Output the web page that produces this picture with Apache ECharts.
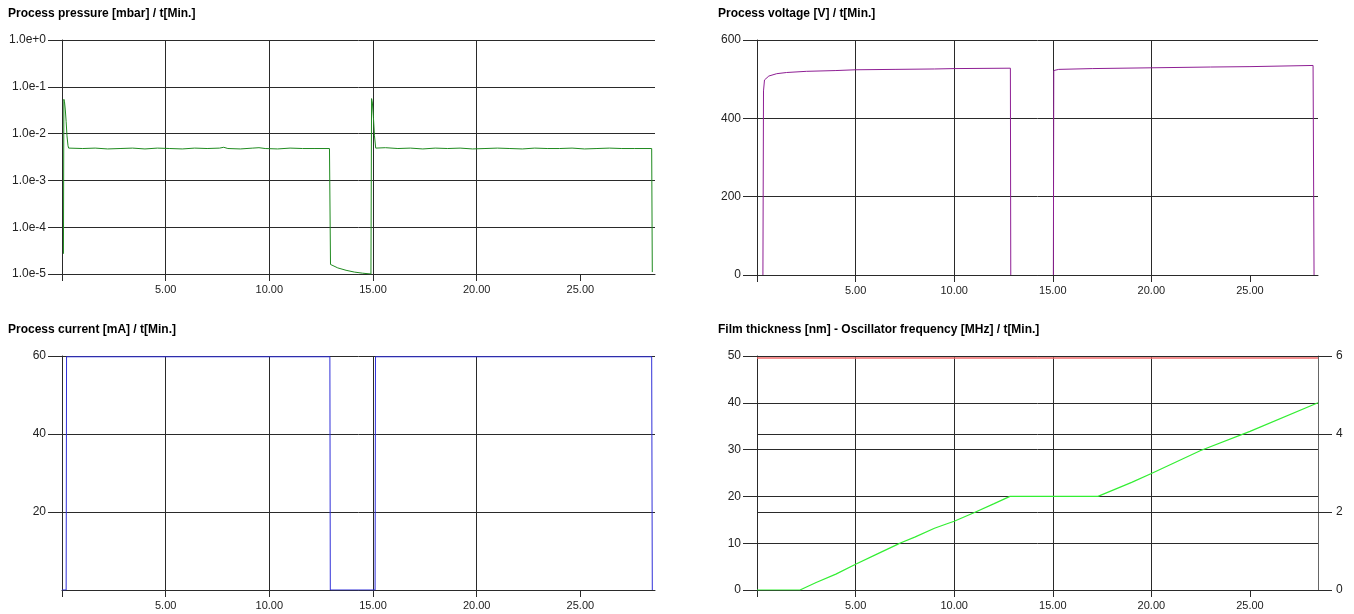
<!DOCTYPE html>
<html><head><meta charset="utf-8">
<script src="https://cdn.jsdelivr.net/npm/echarts@6/dist/echarts.min.js"></script>
<style>html,body{margin:0;padding:0;background:#fff}#c{width:1354px;height:614px}</style>
</head><body><div id="c"></div>
<script>
// ---- data (time in minutes) ----
const titles = [
  "Process pressure [mbar] / t[Min.]",
  "Process voltage [V] / t[Min.]",
  "Process current [mA] / t[Min.]",
  "Film thickness [nm] - Oscillator frequency [MHz] / t[Min.]"
];
const xTickValues = [0, 5, 10, 15, 20, 25];
const xLabelValues = [5, 10, 15, 20, 25];

const pressure = [
  [0.07, 2.7e-5], [0.09, 0.054], [0.12, 0.048], [0.16, 0.032], [0.20, 0.018], [0.24, 0.009], [0.29, 0.0055], [0.32, 0.0049],
  [1.0, 0.0048], [1.6, 0.0049], [2.2, 0.0047], [2.8, 0.0048], [3.4, 0.0049], [4.0, 0.0047], [4.6, 0.0049], [5.2, 0.0048],
  [5.8, 0.0047], [6.4, 0.0049], [7.0, 0.0048], [7.6, 0.0049], [7.8, 0.0051], [8.0, 0.0048], [8.6, 0.0047], [9.2, 0.0049],
  [9.5, 0.0050], [9.8, 0.0048], [10.4, 0.0047], [11.0, 0.0049], [11.6, 0.0048], [12.2, 0.0048], [12.9, 0.0048],
  [12.95, 1.6e-5], [13.3, 1.35e-5], [13.7, 1.2e-5], [14.1, 1.1e-5], [14.5, 1.04e-5], [14.9, 1.0e-5],
  [14.93, 0.056], [14.97, 0.045], [15.02, 0.022], [15.07, 0.009], [15.13, 0.0049],
  [15.6, 0.0050], [16.2, 0.0048], [16.8, 0.0049], [17.4, 0.0047], [18.0, 0.0049], [18.6, 0.0048], [19.2, 0.0049],
  [19.8, 0.0047], [20.4, 0.0048], [21.0, 0.0049], [21.6, 0.0048], [22.2, 0.0047], [22.8, 0.0049], [23.4, 0.0048],
  [24.0, 0.0048], [24.6, 0.0049], [25.2, 0.0047], [25.8, 0.0048], [26.4, 0.0049], [27.0, 0.0048], [27.6, 0.0048],
  [28.44, 0.0048], [28.47, 1.1e-5]
];
const voltage = [
  [0.30, 0], [0.33, 470], [0.38, 498], [0.6, 508], [1.0, 514], [1.5, 517], [2.5, 520], [4.0, 522], [5.0, 524],
  [7.0, 525], [9.0, 526], [10.0, 527], [12.85, 528], [12.87, 0], [13.9, null], [15.03, 0], [15.05, 522], [15.3, 525],
  [17.0, 527], [20.0, 529], [23.0, 531], [25.0, 532], [28.2, 535], [28.25, 0]
];
const current = [
  [0, 0], [0.2, 0], [0.22, 59.8], [12.92, 59.8], [12.94, 0], [15.1, 0], [15.12, 59.8], [28.44, 59.8], [28.47, 0]
];
const thickness = [
  [0, 0], [2.18, 0], [3.0, 1.6], [4.0, 3.4], [5.0, 5.5], [6.0, 7.5], [7.1, 9.7], [7.3, 10.1], [8.0, 11.3],
  [9.0, 13.2], [9.6, 14.1], [10.0, 14.7], [11.0, 16.5], [12.0, 18.4], [12.83, 20], [17.29, 20],
  [19.0, 23.0], [20.0, 24.9], [22.5, 29.8], [25.0, 33.9], [28.45, 40]
];
const frequency = [[0, 5.95], [28.45, 5.95]];

// ---- styling helpers ----
const FONT = "Liberation Sans, Arial, sans-serif";
const GRID = '#2a2a2a';
function xAxis(gi, max, showLabels) {
  return {
    type: 'value', gridIndex: gi, min: 0, max: max, interval: 5,
    axisLine: {show: true, lineStyle: {color: GRID, width: 1}},
    axisTick: {show: true, length: 7, customValues: xTickValues, lineStyle: {color: GRID}},
    axisLabel: {show: showLabels, customValues: xLabelValues, formatter: v => v.toFixed(2),
      color: '#222', fontSize: 11, fontFamily: FONT, margin: 10},
    splitLine: {show: true, showMinLine: false, showMaxLine: false, lineStyle: {color: GRID, width: 1}}
  };
}
function yAxis(gi, opts) {
  return Object.assign({
    type: 'value', gridIndex: gi,
    axisLine: {show: true, lineStyle: {color: GRID, width: 1}},
    axisTick: {show: true, length: 14, lineStyle: {color: GRID, width: 1}},
    axisLabel: {color: '#222', fontSize: 12, fontFamily: FONT, margin: 16},
    splitLine: {show: true, lineStyle: {color: GRID, width: 1}}
  }, opts);
}
function line(xi, yi, data, color, w) {
  return {type: 'line', xAxisIndex: xi, yAxisIndex: yi, data: data, showSymbol: false, symbol: 'none',
    connectNulls: false, lineStyle: {color: color, width: w || 1}, itemStyle: {color: color}, animation: false, silent: true};
}

const chart = echarts.init(document.getElementById('c'), null, {renderer: 'canvas'});
const titleStyle = {fontSize: 12, fontWeight: 'bold', color: '#000', fontFamily: FONT};
const ylogAxis = yAxis(0, {type: 'log', logBase: 10, min: 1e-5, max: 1});
ylogAxis.axisLabel = Object.assign({}, ylogAxis.axisLabel, {formatter: v => Number(v).toExponential(1)});

const rightAxis = yAxis(3, {position: 'right', min: 0, max: 6, interval: 2});
rightAxis.axisLine = {show: true, lineStyle: {color: '#666', width: 1}};
rightAxis.axisLabel = Object.assign({}, rightAxis.axisLabel, {margin: 18, fontSize: 12});

const bottomLeftY = yAxis(2, {min: 0, max: 60, interval: 20});
bottomLeftY.axisLabel = Object.assign({}, bottomLeftY.axisLabel, {showMinLabel: false});

chart.setOption({
  animation: false,
  backgroundColor: '#fff',
  title: [
    {text: titles[0], left: 8, top: 8, padding: 0, textStyle: titleStyle},
    {text: titles[1], left: 718, top: 8, padding: 0, textStyle: titleStyle},
    {text: titles[2], left: 8, top: 324, padding: 0, textStyle: titleStyle},
    {text: titles[3], left: 718, top: 324, padding: 0, textStyle: titleStyle}
  ],
  grid: [
    {left: 62, top: 40, width: 593, height: 234},
    {left: 757, top: 40, width: 561, height: 235},
    {left: 62, top: 356, width: 593, height: 234},
    {left: 757, top: 356, width: 561, height: 234}
  ],
  xAxis: [xAxis(0, 28.6, true), xAxis(1, 28.45, true), xAxis(2, 28.6, true), xAxis(3, 28.45, true)],
  yAxis: [
    ylogAxis,
    yAxis(1, {min: 0, max: 600, interval: 200}),
    bottomLeftY,
    yAxis(3, {min: 0, max: 50, interval: 10}),
    rightAxis
  ],
  series: [
    line(0, 0, pressure, '#1f8a1f'),
    line(1, 1, voltage, '#8e1f94'),
    line(2, 2, current, '#3030d8'),
    line(3, 4, frequency, '#f06a6a', 1.5),
    line(3, 3, thickness, '#33ee33', 1.2)
  ]
});
</script>
</body></html>
